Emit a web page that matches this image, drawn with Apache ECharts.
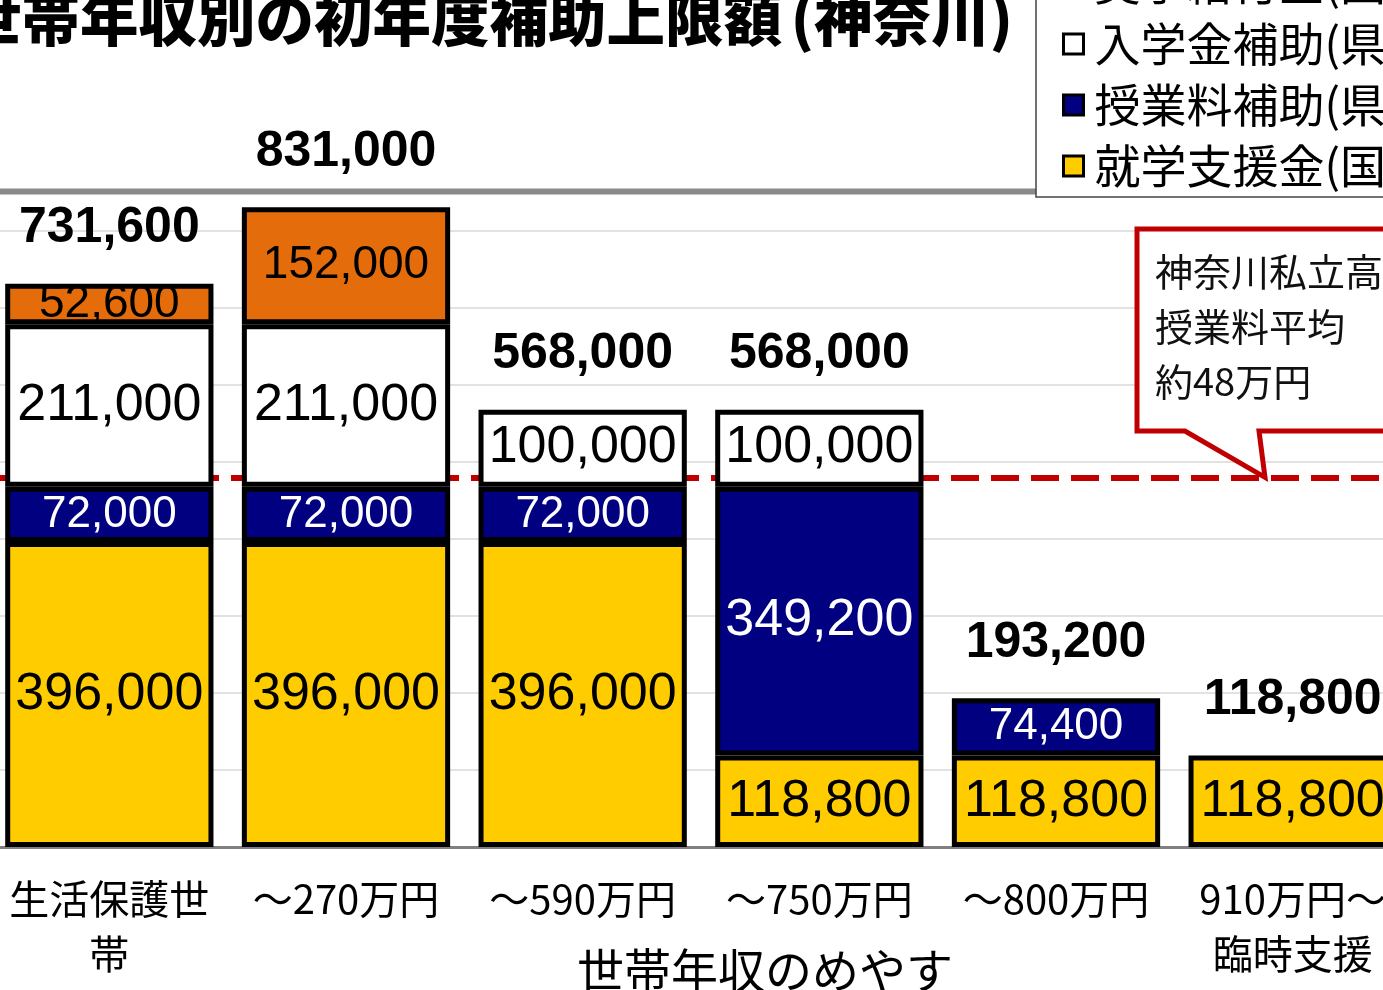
<!DOCTYPE html>
<html><head><meta charset="utf-8">
<script src="https://cdn.jsdelivr.net/npm/echarts@6/dist/echarts.min.js"></script>
<style>html,body{margin:0;padding:0;background:#fff}#c{width:1383px;height:990px}</style>
</head><body><div id="c"></div>
<script>
// ---- data ----
const categories = ['生活保護世\n帯', '～270万円', '～590万円', '～750万円', '～800万円', '910万円～\n臨時支援'];
const shugakuShien = [396000, 396000, 396000, 118800, 118800, 118800];   // 就学支援金(国)
const jugyoryoHojo = [72000, 72000, 72000, 349200, 74400, null];         // 授業料補助(県)
const nyugakuHojo  = [211000, 211000, 100000, 100000, null, null];       // 入学金補助(県)
const kyufukin     = [52600, 152000, null, null, null, null];            // 奨学給付金
const seriesNames = ['就学支援金(国)', '授業料補助(県)', '入学金補助(県)', '奨学給付金(国・県)'];
const averageTuition = 480000;
const titleMain = '世帯年収別の初年度補助上限額';
const titleSub = '(神奈川)';
const axisTitle = '世帯年収のめやす';
const calloutLines = ['神奈川私立高校', '授業料平均', '約48万円'];

const stacks = [shugakuShien, jugyoryoHojo, nyugakuHojo, kyufukin];
const totals = categories.map((_, i) => stacks.reduce((s, a) => s + (a[i] || 0), 0));
const fmt = v => Number(v).toLocaleString('en-US');

const chart = echarts.init(document.getElementById('c'));
const LAT = 'Liberation Sans, Arial, sans-serif';
const JP = 'Noto Sans CJK JP, sans-serif';
const BW = '88%';

function barSeries(name, data, color, labelColor) {
  return {
    name, type: 'bar', stack: 'a', data, barWidth: BW, z: 3,
    itemStyle: { color, borderColor: '#000', borderWidth: 5 },
    label: {
      show: true, position: 'inside', fontFamily: LAT, color: labelColor,
      formatter: p => fmt(p.value)
    },
    emphasis: { disabled: true }
  };
}

const series = [
  barSeries(seriesNames[0], shugakuShien, '#FFCC00', '#000'),
  barSeries(seriesNames[1], jugyoryoHojo, '#000080', '#fff'),
  barSeries(seriesNames[2], nyugakuHojo, '#FFFFFF', '#000'),
  barSeries(seriesNames[3], kyufukin, '#E46C0A', '#000')
];
// label size rule: taller segments get larger type
series.forEach((s, si) => {
  s.data = s.data.map(v => v == null ? '-' : {
    value: v,
    label: { fontSize: si === 3 ? 46 : (v > 90000 ? 52 : 44) }
  });
});
series[0].markLine = {
  z: 1, silent: true, symbol: ['none', 'none'],
  label: { show: false },
  lineStyle: { color: '#C00000', width: 6, type: [28, 12] },
  data: [{ yAxis: averageTuition }]
};
series.push({
  name: 'total', type: 'bar', stack: 'a', data: totals.map(() => 0), barWidth: BW, z: 3,
  itemStyle: { color: 'rgba(0,0,0,0)', borderWidth: 0 },
  label: {
    show: true, position: 'top', distance: 30, fontFamily: LAT, fontWeight: 'bold',
    fontSize: 50, color: '#000', formatter: p => fmt(totals[p.dataIndex])
  },
  emphasis: { disabled: true }
});

chart.setOption({
  animation: false,
  backgroundColor: '#fff',
  grid: { left: -9, width: 1420, top: 192.5, bottom: 143, outerBoundsMode: 'none', containLabel: false },
  legend: {
    data: [seriesNames[3], seriesNames[2], seriesNames[1], seriesNames[0]],
    orient: 'vertical', left: 1036, top: -48, z: 10,
    padding: [8, 40, 8, 26], backgroundColor: '#fff', borderColor: '#444', borderWidth: 1.5,
    itemWidth: 20, itemHeight: 20, itemGap: 15, icon: 'rect',
    itemStyle: { borderColor: '#000', borderWidth: 3 },
    textStyle: { fontSize: 46, lineHeight: 46, fontFamily: JP, color: '#000', padding: [0, 0, 0, 6] },
    selectedMode: false
  },
  xAxis: {
    type: 'category', data: categories,
    axisLine: { lineStyle: { color: '#808080', width: 3 } },
    axisTick: { show: false },
    axisLabel: { fontSize: 40, lineHeight: 55, fontFamily: JP, color: '#000', margin: 24, interval: 0 }
  },
  yAxis: {
    type: 'value', min: 0, max: 850000, interval: 100000,
    axisLabel: { show: false }, axisLine: { show: false }, axisTick: { show: false },
    splitLine: { lineStyle: { color: '#D9D9D9', width: 1.5 } }
  },
  series
});

const tipY = chart.convertToPixel({ yAxisIndex: 0 }, averageTuition);
chart.setOption({
  graphic: [
    { type: 'rect', z: 5, shape: { x: 0, y: 188.5, width: 1040, height: 6 }, style: { fill: '#8a8a8a' } },
    { type: 'text', z: 5, x: -37, y: 19,
      style: { text: titleMain, fontSize: 58.5, fontWeight: 900, fontFamily: JP, fill: '#000',
               textAlign: 'left', textVerticalAlign: 'middle' } },
    { type: 'text', z: 5, x: 1013, y: 19,
      style: { text: titleSub, fontSize: 58.5, fontWeight: 900, fontFamily: JP, fill: '#000',
               textAlign: 'right', textVerticalAlign: 'middle' } },
    { type: 'polygon', z: 20,
      shape: { points: [[1137, 229], [1400, 229], [1400, 431], [1259, 431], [1265, tipY], [1185, 431], [1137, 431]] },
      style: { fill: '#fff', stroke: '#C00000', lineWidth: 5, lineJoin: 'miter' } },
    { type: 'text', z: 21, x: 1155, y: 244,
      style: { text: calloutLines.join('\n'), fontSize: 38, lineHeight: 55, fontFamily: JP, fill: '#111',
               textAlign: 'left', textVerticalAlign: 'top' } },
    { type: 'text', z: 5, x: 765, y: 970,
      style: { text: axisTitle, fontSize: 47, fontFamily: JP, fill: '#000',
               textAlign: 'center', textVerticalAlign: 'middle' } }
  ]
});
</script></body></html>
